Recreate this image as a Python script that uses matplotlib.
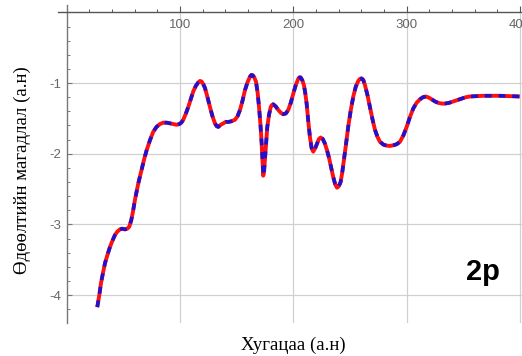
import numpy as np
import matplotlib.pyplot as plt

plt.rcParams['axes.unicode_minus'] = False

# Хугацаа (а.н) ба өдөөлтийн магадлал, зургаас уншсан утгууд
t = [27.0, 28.8, 30.3, 32.0, 33.8, 36.0, 38.2, 40.4, 42.6, 44.8, 47.0, 49.0, 51.5,
     53.5, 55.3, 57.0, 58.5, 60.3, 61.7, 63.2, 65.0, 66.7, 68.5, 70.6, 73.5, 76.4,
     79.3, 82.3, 85.3, 88.3, 91.2, 94.1, 97.0, 99.4, 101.2, 102.9, 105.0, 107.3,
     109.5, 111.7, 114.0, 116.2, 117.7, 119.2, 120.7, 122.1, 124.3, 126.5, 128.7,
     130.9, 132.4, 133.8, 136.0, 138.2, 140.4, 142.6, 145.5, 148.5, 150.8, 153.0,
     155.2, 157.4, 159.6, 161.8, 163.0, 164.2, 165.6, 167.1, 168.6, 170.0, 171.1,
     172.1, 172.9, 173.5, 174.2, 175.0, 176.0, 177.1, 178.6, 180.1, 181.2, 182.3,
     184.5, 186.8, 189.0, 191.2, 193.4, 195.6, 197.8, 200.0, 202.2, 204.4, 205.5,
     206.5, 208.0, 209.4, 210.6, 211.8, 213.2, 214.7, 216.2, 217.6, 219.4, 221.2,
     222.7, 224.2, 226.0, 227.8, 229.8, 231.6, 233.5, 235.3, 237.0, 238.6, 240.2,
     241.8, 243.2, 244.7, 246.6, 248.5, 250.8, 253.0, 255.2, 257.4, 258.9, 260.4,
     261.9, 263.3, 265.5, 267.7, 269.9, 272.1, 274.3, 276.5, 279.5, 282.4, 285.3,
     288.3, 291.3, 294.2, 297.2, 300.1, 303.0, 305.9, 308.8, 311.8, 314.5, 317.1,
     319.6, 322.2, 325.1, 328.0, 331.0, 333.9, 337.5, 341.2, 344.9, 348.6, 352.3,
     356.0, 361.8, 367.7, 375.0, 382.4, 391.2, 400.0]
p = [-4.17, -4.00, -3.83, -3.69, -3.55, -3.43, -3.32, -3.23, -3.15, -3.10, -3.07,
     -3.06, -3.07, -3.06, -3.03, -2.94, -2.82, -2.65, -2.54, -2.42, -2.30, -2.18,
     -2.07, -1.95, -1.81, -1.69, -1.62, -1.58, -1.56, -1.56, -1.57, -1.58, -1.59,
     -1.58, -1.56, -1.52, -1.44, -1.34, -1.23, -1.12, -1.04, -0.99, -0.97, -0.98,
     -1.02, -1.07, -1.20, -1.34, -1.47, -1.57, -1.61, -1.62, -1.59, -1.57, -1.55,
     -1.55, -1.54, -1.52, -1.47, -1.38, -1.25, -1.10, -0.99, -0.91, -0.885, -0.89,
     -0.92, -0.98, -1.14, -1.38, -1.60, -1.85, -2.10, -2.31, -2.26, -2.09, -1.86,
     -1.62, -1.45, -1.34, -1.31, -1.30, -1.33, -1.38, -1.42, -1.44, -1.43, -1.38,
     -1.28, -1.15, -1.03, -0.94, -0.92, -0.92, -0.96, -1.03, -1.14, -1.29, -1.53,
     -1.76, -1.92, -1.97, -1.92, -1.85, -1.79, -1.77, -1.79, -1.85, -1.95, -2.06,
     -2.20, -2.33, -2.43, -2.48, -2.46, -2.40, -2.27, -2.09, -1.86, -1.62, -1.38,
     -1.19, -1.05, -0.97, -0.94, -0.935, -0.96, -1.03, -1.17, -1.34, -1.51, -1.66,
     -1.76, -1.83, -1.87, -1.885, -1.89, -1.88, -1.865, -1.83, -1.74, -1.62, -1.48,
     -1.36, -1.28, -1.23, -1.20, -1.19, -1.205, -1.23, -1.26, -1.28, -1.29, -1.29,
     -1.28, -1.26, -1.24, -1.22, -1.20, -1.19, -1.185, -1.18, -1.18, -1.18, -1.185,
     -1.19]

xticks = [100, 200, 300, 400]
yticks = [-1, -2, -3, -4]

fig = plt.figure(figsize=(5.22, 3.56), dpi=100)
ax = fig.add_axes([0.111, 0.0927, 0.889, 0.893])

# торон шугамууд
ax.hlines(yticks, 0, 405, color='#d0d0d0', lw=0.9, zorder=0)
ax.vlines(xticks, -4.5, 0, color='#d0d0d0', lw=0.9, zorder=0)

# улаан шугам дээр хөх тасархай
ax.plot(t, p, color='#ff1010', lw=2.8, solid_capstyle='butt', solid_joinstyle='round', zorder=3)
ax.plot(t, p, color='#2010d0', lw=2.6, dashes=(1.9, 1.9), dash_capstyle='butt',
        dash_joinstyle='round', zorder=4)

ax.set_xlim(-7.7, 401.9)
ax.set_ylim(-4.394, 0.103)

for s in ['top', 'right']:
    ax.spines[s].set_visible(False)
ax.spines['bottom'].set_position(('data', 0))
ax.spines['left'].set_position(('data', 0))
ax.spines['bottom'].set_color('#555555')
ax.spines['left'].set_color('#777777')
ax.spines['bottom'].set_linewidth(1.0)
ax.spines['left'].set_linewidth(1.0)
ax.spines['left'].set_bounds(-4.394, 0.103)

ax.set_xticks(xticks)
ax.set_xticks(np.arange(20, 401, 20), minor=True)
ax.set_yticks(yticks)
ax.set_yticks(np.arange(-4.2, 0.01, 0.2), minor=True)
ax.tick_params(axis='x', which='major', direction='in', length=4, width=0.8, color='#555555',
               pad=5, labelsize=9.5, labelcolor='#666666')
ax.tick_params(axis='x', which='minor', direction='in', length=2.2, width=0.7, color='#555555')
ax.tick_params(axis='y', which='major', direction='in', length=3.5, width=0.8, color='#777777',
               pad=4, labelsize=9.5, labelcolor='#666666')
ax.tick_params(axis='y', which='minor', direction='in', length=2.2, width=0.7, color='#777777')
for lb in ax.get_xticklabels() + ax.get_yticklabels():
    lb.set_family(['Liberation Sans', 'DejaVu Sans'])

ax.text(367, -3.79, '2p', fontsize=21, fontweight='bold', ha='center', va='baseline',
        family=['Liberation Sans', 'DejaVu Sans'])

fig.text(293 / 522, 1 - 345 / 356, 'Хугацаа (а.н)', fontsize=13.5, ha='center', va='center',
         family=['Liberation Serif', 'DejaVu Serif'])
fig.text(22 / 522, 1 - 170 / 356, 'Өдөөлтийн магадлал (а.н)', fontsize=13.5, rotation=90,
         ha='center', va='center', family=['Liberation Serif', 'DejaVu Serif'])

fig.savefig('out.png', dpi=100)
